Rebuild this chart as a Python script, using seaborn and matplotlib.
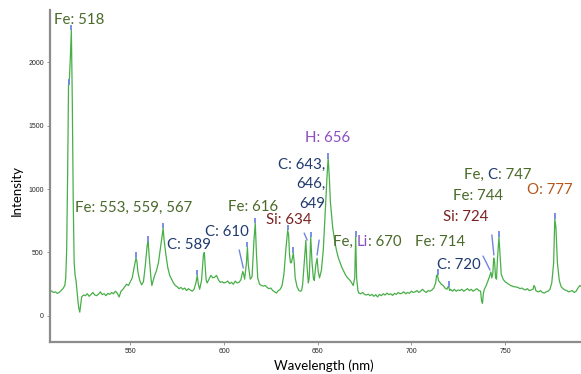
import numpy as np
import pandas as pd
import matplotlib
matplotlib.use("Agg")
import matplotlib.pyplot as plt
import seaborn as sns

# Spectrum (wavelength in nm, intensity)
wavelength = [
    507, 508, 509, 510, 511, 512, 513, 514, 515, 515.5, 516, 516.5, 517, 517.5, 518, 518.5, 519, 519.5,
    520, 520.5, 521, 521.5, 522, 522.5, 523, 523.5, 524, 525, 526, 527, 528, 529, 530, 531, 532, 533,
    534, 535, 536, 537, 538, 539, 540, 541, 542, 543, 544, 545, 546, 547, 548, 549, 550, 551, 552, 553,
    553.5, 554, 555, 556, 557, 558, 559, 559.5, 560, 561, 561.5, 562, 563, 564, 565, 566, 567, 567.5,
    568, 569, 570, 571, 572, 573, 574, 575, 576, 577, 578, 579, 580, 581, 582, 583, 584, 585, 585.7,
    586.3, 587, 588, 589, 589.5, 590, 590.5, 591, 592, 593, 594, 595, 596, 597, 598, 599, 600, 601,
    602, 603, 604, 605, 606, 607, 608, 609, 610, 610.5, 611, 612, 612.5, 613, 614, 615, 616, 616.7,
    617.3, 618, 619, 620, 621, 622, 623, 624, 625, 626, 627, 628, 629, 630, 631, 632, 633, 634, 634.5,
    635, 635.5, 636, 637, 637.5, 638, 639, 640, 641, 641.5, 642, 643, 643.7, 644.3, 645, 645.5, 646.3,
    647, 647.7, 648.2, 649, 649.7, 650.3, 651, 652, 653, 654, 654.5, 655, 655.6, 656.2, 656.8, 657.5,
    658, 659, 660, 661, 662, 663, 664, 665, 666, 667, 668, 669, 669.8, 670.3, 670.8, 671.5, 672, 673,
    674, 675, 676, 677, 678, 679, 680, 681, 682, 683, 684, 685, 686, 687, 688, 689, 690, 691, 692, 693,
    694, 695, 696, 697, 698, 699, 700, 701, 702, 703, 704, 705, 706, 707, 708, 709, 710, 711, 712, 713,
    713.5, 714, 714.5, 715, 716, 717, 718, 719, 719.6, 720, 720.5, 721, 722, 723, 724, 725, 726, 727,
    728, 729, 730, 731, 732, 733, 734, 735, 736, 737, 737.5, 738, 738.5, 739, 740, 741, 742, 742.5,
    743, 743.5, 744, 744.5, 745, 745.5, 746, 746.8, 747.5, 748, 749, 750, 751, 752, 753, 754, 755, 756,
    757, 758, 759, 760, 761, 762, 763, 764, 765, 765.5, 766, 766.5, 767, 768, 769, 770, 771, 772, 773,
    774, 775, 776, 776.6, 777.2, 778, 779, 780, 781, 782, 783, 784, 785, 786, 787, 788, 789, 790, 791,
]
intensity = [
    205, 195, 185, 190, 178, 185, 200, 215, 240, 300, 520, 1100, 1820, 1880, 2050, 2250, 1700, 900,
    420, 320, 280, 200, 120, 60, 30, 90, 150, 165, 160, 175, 155, 170, 185, 165, 160, 172,
    190, 168, 175, 160, 178, 170, 185, 175, 195, 180, 150, 195, 210, 230, 250, 240, 270, 300, 380, 455,
    430, 350, 280, 245, 270, 400, 560, 585, 480, 300, 240, 270, 320, 360, 420, 530, 640, 690,
    600, 480, 380, 320, 290, 260, 240, 230, 215, 225, 210, 220, 200, 215, 205, 195, 210, 260, 320,
    250, 210, 280, 480, 500, 380, 280, 260, 290, 320, 300, 305, 320, 285, 265, 270, 260, 265,
    275, 255, 265, 250, 275, 260, 265, 285, 350, 330, 290, 420, 540, 400, 290, 310, 600, 730,
    500, 300, 250, 240, 235, 240, 225, 215, 220, 200, 190, 181, 200, 210, 240, 330, 520, 675, 640,
    480, 420, 420, 495, 420, 300, 230, 200, 195, 205, 250, 450, 595, 400, 260, 300, 620,
    420, 300, 280, 400, 455, 350, 300, 360, 520, 800, 950, 1100, 1240, 1100, 900, 780,
    700, 600, 520, 460, 420, 380, 350, 320, 300, 285, 265, 240, 300, 622, 300, 200, 180, 175,
    185, 170, 165, 172, 160, 170, 155, 168, 150, 170, 160, 175, 165, 180, 168, 175, 162, 178, 170, 185,
    175, 180, 190, 175, 185, 178, 195, 185, 190, 200, 185, 195, 210, 195, 185, 200, 195, 205, 220, 260,
    320, 322, 280, 270, 250, 240, 220, 210, 230, 228, 200, 210, 195, 210, 195, 205, 200, 210,
    195, 205, 215, 200, 210, 195, 205, 215, 200, 195, 120, 100, 180, 210, 240, 280, 320, 346,
    300, 330, 457, 420, 300, 290, 450, 622, 450, 330, 290, 270, 260, 250, 240, 235, 230, 228,
    225, 215, 220, 210, 205, 215, 200, 205, 210, 240, 228, 200, 195, 190, 200, 185, 180, 190, 195,
    210, 260, 420, 764, 700, 420, 280, 230, 215, 205, 200, 190, 195, 200, 185, 195, 220, 240, 230,
]

# peaks that carry a short vertical blue marker
marked_peaks = [517, 518.5, 553, 559.5, 567.5, 585.7, 612.5, 616.7, 634, 637, 646.3,
                655.6, 670.3, 714, 720, 746.8, 776.6]
# slanted markers: (start wl, start I, end wl, end I)
slant_x0 = [608.1, 642.8, 650.8, 738.3, 743.0]
slant_y0 = [520, 653, 598, 472, 638]
slant_x1 = [610.3, 644.4, 649.7, 742.0, 744.1]
slant_y1 = [378, 598, 480, 362, 480]

FE = "#4A6A2A"
C = "#1F3A6E"
SI = "#7B2020"
H = "#8A4FC2"
O = "#B5561A"

# labels: list of (text, colour) pieces, anchor x, anchor y
labels = [
    ([("Fe: 518", FE)], 509.0, 2331),
    ([("Fe: 553, 559, 567", FE)], 520.7, 850),
    ([("C: 589", C)], 569.7, 559),
    ([("C: 610", C)], 590.0, 661),
    ([("Fe: 616", FE)], 602.3, 858),
    ([("Si: 634", SI)], 622.5, 756),
    ([("H: 656", H)], 643.3, 1402),
    ([("Fe, ", FE), ("Li", H), (": 670", FE)], 658.3, 583),
    ([("Fe: 714", FE)], 702.0, 583),
    ([("C: 720", C)], 713.7, 402),
    ([("Si: 724", SI)], 717.0, 780),
    ([("Fe: 744", FE)], 722.3, 945),
    ([("Fe, ", FE), ("C", C), (": 747", FE)], 728.0, 1110),
    ([("O: 777", O)], 762.0, 992),
]

sns.set_theme(style="white")
plt.rcParams["font.family"] = ["Lato", "DejaVu Sans"]

spec = pd.DataFrame({"Wavelength (nm)": wavelength, "Intensity": intensity})

fig = plt.figure(figsize=(5.81, 3.74), dpi=100)
ax = fig.add_axes([50 / 581, 32 / 374, 531 / 581, 332 / 374])

sns.lineplot(data=spec, x="Wavelength (nm)", y="Intensity", ax=ax,
             color="#34A634", linewidth=0.9, alpha=0.9)

mark_col = "#6F86E0"
peak_tops = np.interp(marked_peaks, wavelength, intensity)
ax.vlines(marked_peaks, peak_tops, peak_tops + 45, color=mark_col, linewidth=1.3)
for x0, y0, x1, y1 in zip(slant_x0, slant_y0, slant_x1, slant_y1):
    ax.plot([x0, x1], [y0, y1], color=mark_col, linewidth=1.0)

fs = 10.8
for pieces, lx, ly in labels:
    prev = None
    for txt, col in pieces:
        if prev is None:
            prev = ax.text(lx, ly, txt, color=col, fontsize=fs, ha="left", va="center")
        else:
            prev = ax.annotate(txt, xy=(1, 0), xycoords=prev, color=col, fontsize=fs,
                               ha="left", va="bottom")

ax.text(654.0, 1039, "C: 643,\n646,\n649", color=C, fontsize=fs, ha="right", va="center",
        multialignment="right", linespacing=1.5)

ax.set_xlim(507.1, 790.6)
ax.set_ylim(-205, 2410)
ax.set_xticks([550, 600, 650, 700, 750])
ax.set_yticks([0, 500, 1000, 1500, 2000])
ax.tick_params(axis="both", labelsize=5, length=2.5, width=0.6, color="#888888", pad=2,
               bottom=True, left=True)
for lab in ax.get_xticklabels() + ax.get_yticklabels():
    lab.set_family(["Liberation Sans", "DejaVu Sans"])

sns.despine(ax=ax)
for side in ["left", "bottom"]:
    ax.spines[side].set_color("#8C8C8C")
    ax.spines[side].set_linewidth(1.6)

ax.set_xlabel("Wavelength (nm)", fontsize=9.5, color="black")
ax.set_ylabel("Intensity", fontsize=9.5, color="black")
ax.xaxis.set_label_coords((324 - 50) / 531, -17 / 332)
ax.yaxis.set_label_coords((23 - 50) / 531, (342 - 190) / 332)

fig.savefig("out.png", dpi=100)
